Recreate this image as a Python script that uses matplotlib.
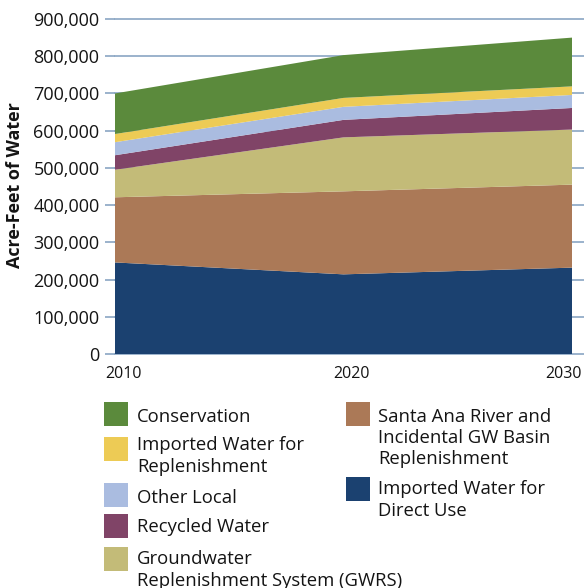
import matplotlib
matplotlib.use("Agg")
import matplotlib.pyplot as plt
from matplotlib.patches import Rectangle
from matplotlib.ticker import FuncFormatter
import matplotlib.transforms as mtransforms

# ---------------- data ----------------
years = [2010, 2020, 2030]
series_names = [
    "Imported Water for\nDirect Use",
    "Santa Ana River and\nIncidental GW Basin\nReplenishment",
    "Groundwater\nReplenishment System (GWRS)",
    "Recycled Water",
    "Other Local",
    "Imported Water for\nReplenishment",
    "Conservation",
]
imported_direct = [246000, 214000, 232000]
santa_ana = [175000, 223000, 223000]
gwrs = [74000, 145000, 148000]
recycled = [39000, 47000, 58000]
other_local = [35000, 35000, 35000]
imported_replenish = [22000, 24000, 23000]
conservation = [109000, 115000, 131000]
values = [imported_direct, santa_ana, gwrs, recycled, other_local,
          imported_replenish, conservation]
colors = ["#1B4170", "#AB7957", "#C3BB78", "#804467", "#AABCE0",
          "#EDCB55", "#5B8A3C"]
y_ticks = [0, 100000, 200000, 300000, 400000, 500000, 600000, 700000,
           800000, 900000]

FONT = "Open Sans"
TXT = "#141414"
W, H = 584, 588
fig = plt.figure(figsize=(W / 100, H / 100), dpi=100)

def fx(px):
    return px / W

def fy(py):
    return 1 - py / H

ax_left, ax_right, ax_top, ax_bot = 115, 584, 19, 354
ax = fig.add_axes([fx(ax_left), fy(ax_bot), fx(ax_right - ax_left),
                   (ax_bot - ax_top) / H])

ax.stackplot(years, *values, colors=colors, linewidth=0, zorder=2)

grid_c = "#8AA6C4"
ax.set_ylim(0, 900000)
ax.set_xlim(2010, 2010 + 20 * (ax_right - ax_left) / (572 - ax_left))
ax.set_yticks(y_ticks)
ax.yaxis.set_major_formatter(FuncFormatter(lambda v, p: f"{int(v):,}"))
ax.grid(axis="y", color=grid_c, linewidth=1.2, zorder=0)
for gl in ax.get_ygridlines():
    gl.set_clip_on(False)
ax.set_axisbelow(True)
for s in ax.spines.values():
    s.set_visible(False)
ax.tick_params(axis="y", length=7.2, width=1.2, color=grid_c, pad=4,
               labelsize=13, labelcolor=TXT)
ax.tick_params(axis="x", length=0, pad=9, labelsize=11.5, labelcolor=TXT)
ax.set_xticks(years)
ax.set_xticklabels([str(y) for y in years])
for lab in ax.get_yticklabels() + ax.get_xticklabels():
    lab.set_family(FONT)
offsets = [9, 8, -9]
for lab, off in zip(ax.get_xticklabels(), offsets):
    lab.set_transform(lab.get_transform() +
                      mtransforms.ScaledTranslation(off / 100, 0,
                                                    fig.dpi_scale_trans))

fig.text(fx(15.5), fy(185), "Acre-Feet of Water", rotation=90,
         ha="center", va="center", fontsize=13, fontweight="bold",
         family=FONT, color=TXT)

# ---------------- legend (manual) ----------------
legend_order = [6, 5, 4, 3, 2, 1, 0]
col_of = {6: 0, 5: 0, 4: 0, 3: 0, 2: 0, 1: 1, 0: 1}
sq_top = {6: 402, 5: 437, 4: 483, 3: 514, 2: 547, 1: 402, 0: 477}
base1 = {6: 421.5, 5: 450, 4: 503, 3: 532.5, 2: 564, 1: 421.5, 0: 494}
sq_x = [104, 346]
txt_x = [137, 378]
line_step = 21.5
sq = 24
for i in legend_order:
    c = col_of[i]
    fig.add_artist(Rectangle((fx(sq_x[c]), fy(sq_top[i] + sq)),
                             fx(sq), sq / H, transform=fig.transFigure,
                             facecolor=colors[i], edgecolor="none"))
    for k, line in enumerate(series_names[i].split("\n")):
        fig.text(fx(txt_x[c]), fy(base1[i] + k * line_step), line,
                 ha="left", va="baseline", fontsize=13.3, family=FONT,
                 color=TXT)

fig.savefig("out.png", dpi=100)
